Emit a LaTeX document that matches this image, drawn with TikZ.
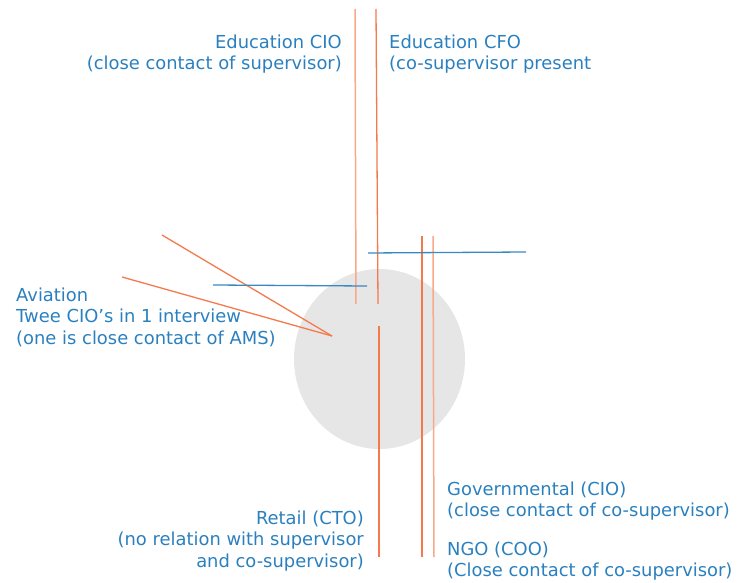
\documentclass[tikz,border=0pt]{standalone}
\usepackage{fontspec}
\setmainfont{DejaVu Sans}
\definecolor{txtblue}{HTML}{2A80BE}
\definecolor{lineblue}{HTML}{3A88C2}
\definecolor{org}{HTML}{F47A4C}
\definecolor{orglight}{HTML}{F9A98B}
\definecolor{circ}{HTML}{E6E6E6}
\begin{document}
\begin{tikzpicture}[x=1pt,y=-1pt,
  lbl/.style={inner sep=0pt,text=txtblue,font=\fontsize{17.9}{21.5}\selectfont},
  oline/.style={draw=org,line width=1.3pt},
  olight/.style={draw=orglight,line width=1.5pt},
  bline/.style={draw=lineblue,line width=1.3pt}]
\useasboundingbox (0,0) rectangle (740,583);
% circle
\fill[circ] (379.5,359) ellipse [x radius=85.5,y radius=90];
% coordinates
\coordinate (a1) at (355,9);   \coordinate (a2) at (356,304);
\coordinate (b1) at (376,9);   \coordinate (b2) at (378,304);
\coordinate (c1) at (379,326); \coordinate (c2) at (379,557);
\coordinate (d1) at (422,236); \coordinate (d2) at (422,557);
\coordinate (e1) at (433,236); \coordinate (e2) at (434,557);
\coordinate (f1) at (213,285); \coordinate (f2) at (367,286);
\coordinate (g1) at (368,253); \coordinate (g2) at (526,252);
\coordinate (h1) at (162,235); \coordinate (h2) at (122,277);
\coordinate (hx) at (332,336);
% lines
\draw[olight] (a1) -- (a2);
\draw[oline] (b1) -- (b2);
\draw[oline] (c1) -- (c2);
\draw[oline] (d1) -- (d2);
\draw[olight] (e1) -- (e2);
\draw[oline] (h1) -- (hx);
\draw[oline] (h2) -- (hx);
\draw[bline] (f1) -- (f2);
\draw[bline] (g1) -- (g2);
% labels
\node[lbl,anchor=east,align=right] (ecio) at (342,54) {Education CIO\\(close contact of supervisor)};
\node[lbl,anchor=west,align=left] (ecfo) at (389,54) {Education CFO\\(co-supervisor present};
\node[lbl,anchor=west,align=left] (avi) at (16,317) {Aviation\\Twee CIO’s in 1 interview\\(one is close contact of AMS)};
\node[lbl,anchor=east,align=right] (ret) at (364,541) {Retail (CTO)\\(no relation with supervisor\\and co-supervisor)};
\node[lbl,anchor=west,align=left] (gov) at (447,501) {Governmental (CIO)\\(close contact of co-supervisor)};
\node[lbl,anchor=west,align=left] (ngo) at (447,561) {NGO (COO)\\(Close contact of co-supervisor)};
\end{tikzpicture}
\end{document}
